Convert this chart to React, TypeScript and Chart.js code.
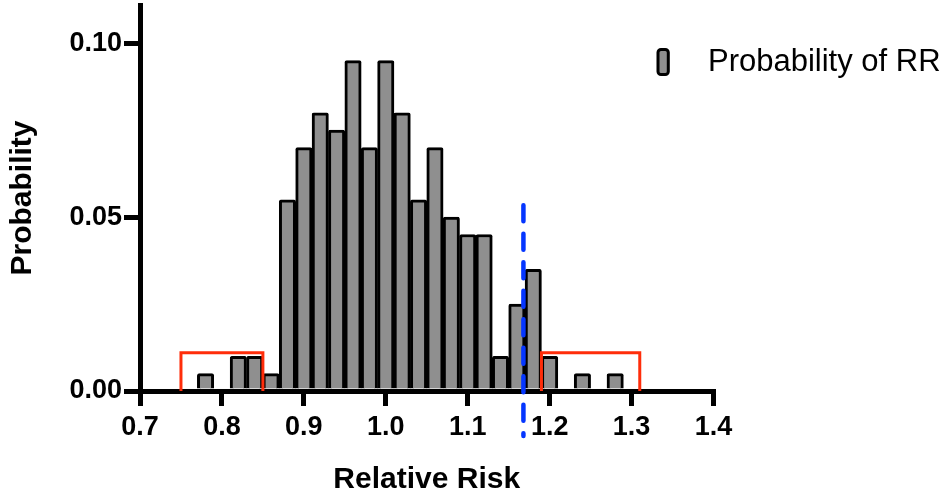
import React, { useEffect, useRef } from 'react';
import { Chart, registerables } from 'chart.js';

Chart.register(...registerables);

// ---- data ----
const binCenters = [0.78, 0.80, 0.82, 0.84, 0.86, 0.88, 0.90, 0.92, 0.94, 0.96, 0.98, 1.00, 1.02, 1.04, 1.06, 1.08, 1.10, 1.12, 1.14, 1.16, 1.18, 1.20, 1.22, 1.24, 1.26, 1.28];
const probabilities = [0.005, 0, 0.01, 0.01, 0.005, 0.055, 0.07, 0.08, 0.075, 0.095, 0.07, 0.095, 0.08, 0.055, 0.07, 0.05, 0.045, 0.045, 0.01, 0.025, 0.035, 0.01, 0, 0.005, 0, 0.005];
const xTickValues = [0.7, 0.8, 0.9, 1.0, 1.1, 1.2, 1.3, 1.4];
const yTickValues = [0, 0.05, 0.10];
const lowerBracketX = [0.75, 0.75, 0.85, 0.85];
const upperBracketX = [1.19, 1.19, 1.31, 1.31];
const bracketY = [0, 0.011, 0.011, 0];
const cutoffRR = 1.168;
const cutoffTop = 0.054;
const seriesLabel = 'Probability of RR';
const xTitle = 'Relative Risk';
const yTitle = 'Probability';

const FONT = "'Liberation Sans', Arial, Helvetica, sans-serif";
const BAR_FILL = '#8f8f8f';
const RED = '#ff2d0a';
const BLUE = '#0536ff';

const cutoffPlugin = {
  id: 'cutoffLine',
  afterDraw(chart: any) {
    const { ctx, scales } = chart;
    const x = scales.x.getPixelForValue(cutoffRR);
    const yTop = scales.y.getPixelForValue(cutoffTop) + 2;
    const yBottom = scales.x.top + 45;
    ctx.save();
    ctx.strokeStyle = BLUE;
    ctx.lineWidth = 4.5;
    ctx.lineCap = 'round';
    ctx.setLineDash([16, 12.5]);
    ctx.beginPath();
    ctx.moveTo(x, yTop);
    ctx.lineTo(x, yBottom);
    ctx.stroke();
    ctx.restore();
  },
};

const legendPlugin = {
  id: 'sideLegend',
  afterDraw(chart: any) {
    const { ctx, chartArea } = chart;
    const ds = chart.data.datasets.find((d: any) => d.type === 'bar');
    const bx = chartArea.right - 55.5;
    const by = chartArea.top + 44.5;
    const bw = 10.3;
    const bh = 25;
    ctx.save();
    ctx.beginPath();
    (ctx as any).roundRect(bx, by, bw, bh, 3);
    ctx.fillStyle = BAR_FILL;
    ctx.fill();
    ctx.lineWidth = 3;
    ctx.strokeStyle = '#000';
    ctx.stroke();
    ctx.fillStyle = '#000';
    ctx.font = `31px ${FONT}`;
    ctx.textBaseline = 'middle';
    ctx.textAlign = 'left';
    ctx.fillText(ds.label, chartArea.right - 5.5, by + bh / 2);
    ctx.restore();
  },
};

export default function App() {
  const canvasRef = useRef<HTMLCanvasElement | null>(null);

  useEffect(() => {
    document.body.style.margin = '0';
    const canvas = canvasRef.current;
    if (!canvas) return;

    const barData = binCenters
      .map((x, i) => ({ x, y: probabilities[i] }))
      .filter((p) => p.y > 0);
    const lowerBracket = lowerBracketX.map((x, i) => ({ x, y: bracketY[i] }));
    const upperBracket = upperBracketX.map((x, i) => ({ x, y: bracketY[i] }));

    const axisCommon = {
      border: { display: true, color: '#000', width: 5 },
      grid: {
        display: true,
        drawOnChartArea: false,
        drawTicks: true,
        color: '#000',
        lineWidth: 5,
        tickWidth: 5,
        tickColor: '#000',
        offset: false,
      },
    };

    const chart = new Chart(canvas, {
      type: 'bar',
      data: {
        datasets: [
          {
            type: 'line',
            label: 'lower',
            data: lowerBracket,
            borderColor: RED,
            borderWidth: 3,
            pointRadius: 0,
            tension: 0,
            fill: false,
          } as any,
          {
            type: 'line',
            label: 'upper',
            data: upperBracket,
            borderColor: RED,
            borderWidth: 3,
            pointRadius: 0,
            tension: 0,
            fill: false,
          } as any,
          {
            type: 'bar',
            label: seriesLabel,
            data: barData,
            backgroundColor: BAR_FILL,
            borderColor: '#000',
            borderWidth: 3,
            borderRadius: 2,
            borderSkipped: 'start',
            barPercentage: 1,
            categoryPercentage: 1,
          } as any,
        ],
      },
      options: {
        animation: false,
        responsive: false,
        maintainAspectRatio: false,
        devicePixelRatio: 1,
        layout: { padding: { left: 0, right: 231.5, top: 5, bottom: 0 } },
        plugins: {
          legend: { display: false },
          tooltip: { enabled: false },
        },
        scales: {
          x: {
            type: 'linear',
            min: 0.7,
            max: 1.4,
            offset: false,
            z: 1,
            ...axisCommon,
            grid: { ...axisCommon.grid, tickLength: 15 },
            afterBuildTicks: (scale: any) => {
              scale.ticks = xTickValues.map((v) => ({ value: v }));
            },
            afterFit: (scale: any) => {
              scale.height = 105;
              scale.paddingLeft = 0;
              scale.paddingRight = 0;
            },
            ticks: {
              autoSkip: false,
              maxRotation: 0,
              padding: 5,
              color: '#000',
              font: { family: FONT, size: 27, weight: 'bold', lineHeight: 1.2 },
              callback: (v: any) => Number(v).toFixed(1),
            },
            title: {
              display: true,
              text: xTitle,
              color: '#000',
              font: { family: FONT, size: 30, weight: 'bold', lineHeight: 1 },
              padding: { top: 0, bottom: 1.5 },
            },
          },
          y: {
            type: 'linear',
            min: 0,
            max: 0.111,
            z: 1,
            ...axisCommon,
            grid: { ...axisCommon.grid, tickLength: 16 },
            afterBuildTicks: (scale: any) => {
              scale.ticks = yTickValues.map((v) => ({ value: v }));
            },
            afterFit: (scale: any) => {
              scale.width = 140;
              scale.paddingTop = 0;
              scale.paddingBottom = 0;
            },
            ticks: {
              padding: 2,
              color: '#000',
              font: { family: FONT, size: 27, weight: 'bold', lineHeight: 1.2 },
              callback: (v: any) => Number(v).toFixed(2),
            },
            title: {
              display: true,
              text: yTitle,
              color: '#000',
              font: { family: FONT, size: 30, weight: 'bold', lineHeight: 1 },
              padding: { top: 7.5, bottom: 0 },
            },
          },
        },
      } as any,
      plugins: [cutoffPlugin, legendPlugin],
    });

    return () => {
      chart.destroy();
    };
  }, []);

  return (
    <div style={{ width: 945, height: 496 }}>
      <canvas ref={canvasRef} width={945} height={496} style={{ display: 'block' }} />
    </div>
  );
}
